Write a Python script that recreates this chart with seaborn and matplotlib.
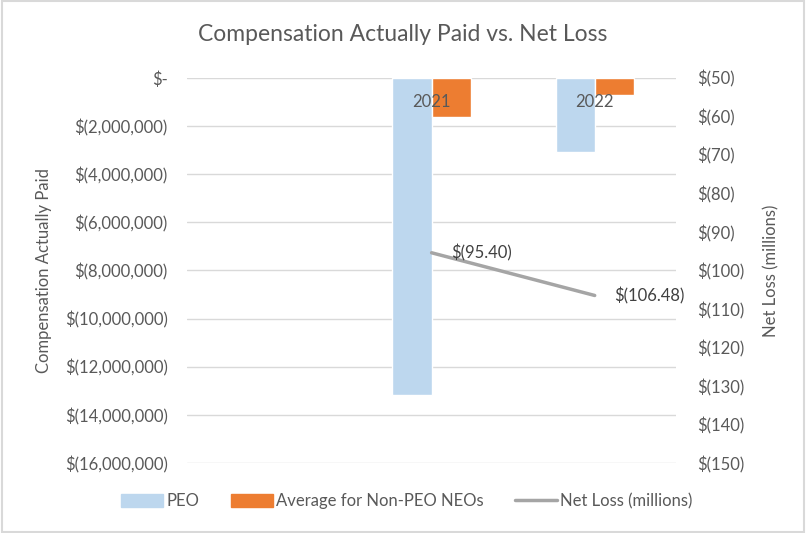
import matplotlib
matplotlib.use('Agg')
import matplotlib.pyplot as plt
import seaborn as sns
import pandas as pd
from matplotlib.patches import Patch, Rectangle
from matplotlib.lines import Line2D
from matplotlib.ticker import FuncFormatter

# data
years = ['2021', '2022']
peo = [-13150000, -3070000]
non_peo = [-1620000, -700000]
net_loss = [-95.40, -106.48]

blue = '#BDD7EE'
orange = '#ED7D31'
grey_line = '#A5A5A5'
text_grey = '#595959'

sns.set_theme(style='white')
plt.rcParams['font.family'] = ['Lato', 'DejaVu Sans']

df = pd.DataFrame({
    'Year': years * 2,
    'Value': peo + non_peo,
    'Series': ['PEO'] * len(years) + ['Average for Non-PEO NEOs'] * len(years),
})

fig = plt.figure(figsize=(8.06, 5.33), dpi=100)
ax = fig.add_axes([0.232, 0.131, 0.607, 0.723])

sns.barplot(data=df, x='Year', y='Value', hue='Series', order=years,
            palette=[blue, orange], width=0.48, saturation=1, ax=ax,
            legend=False)

# net loss line on a second y axis, at the same category slots
ax2 = ax.twinx()
sns.lineplot(x=list(range(len(years))), y=net_loss, ax=ax2, color=grey_line,
             lw=2.5, sort=False)
for i, v in enumerate(net_loss):
    ax2.annotate(f'$({abs(v):.2f})', (i, v), xytext=(14, 0),
                 textcoords='offset points', ha='left', va='center',
                 fontsize=12, color='#404040')

# the chart leaves an empty category slot on the left
ax.set_xlim(-1.5, 1.5)
ax.set_xticks(range(len(years)), labels=years)
ax.set_ylim(-16000000, 0)
ax.set_yticks(range(-16000000, 1, 2000000))
ax.yaxis.set_major_formatter(FuncFormatter(
    lambda v, p: '$-' if v == 0 else f'$({abs(v):,.0f})'))
ax.grid(axis='y', color='#D9D9D9', lw=1)
ax.set_axisbelow(True)
# year labels sit on the zero line, on top of the bars
ax.xaxis.set_zorder(3)
ax.tick_params(axis='y', left=False, right=False, length=0, pad=14,
               labelsize=12, labelcolor=text_grey)
ax.tick_params(axis='x', bottom=False, labelbottom=False, top=False, labeltop=True,
               length=0, pad=-23, labelsize=12, labelcolor=text_grey)
ax.set_xlabel('')
ax.set_ylabel('Compensation Actually Paid', fontsize=12, color=text_grey, labelpad=9)

ax2.set_ylim(-150, -50)
ax2.set_yticks(range(-150, -49, 10))
ax2.yaxis.set_major_formatter(FuncFormatter(lambda v, p: f'$({abs(v):.0f})'))
ax2.tick_params(axis='y', left=False, right=False, length=0, pad=15,
                labelsize=12, labelcolor=text_grey)
ax2.set_ylabel('Net Loss (millions)', fontsize=12, color=text_grey, labelpad=14)
for a in (ax, ax2):
    for s in a.spines.values():
        s.set_visible(False)

fig.suptitle('Compensation Actually Paid vs. Net Loss', y=0.955, fontsize=16.5,
             color=text_grey)

handles = [Patch(color=blue, label='PEO'),
           Patch(color=orange, label='Average for Non-PEO NEOs'),
           Line2D([0], [0], color=grey_line, lw=2.5, label='Net Loss (millions)')]
fig.legend(handles=handles, loc='center', bbox_to_anchor=(0.505, 0.06), ncol=3,
           frameon=False, fontsize=12, handlelength=2.5, handletextpad=0.2,
           columnspacing=1.9, labelcolor=text_grey, handleheight=0.8)

fig.add_artist(Rectangle((0.002, 0.002), 0.996, 0.996, transform=fig.transFigure,
                         fill=False, edgecolor='#D9D9D9', lw=1.5))

fig.savefig('out.png', dpi=100)
